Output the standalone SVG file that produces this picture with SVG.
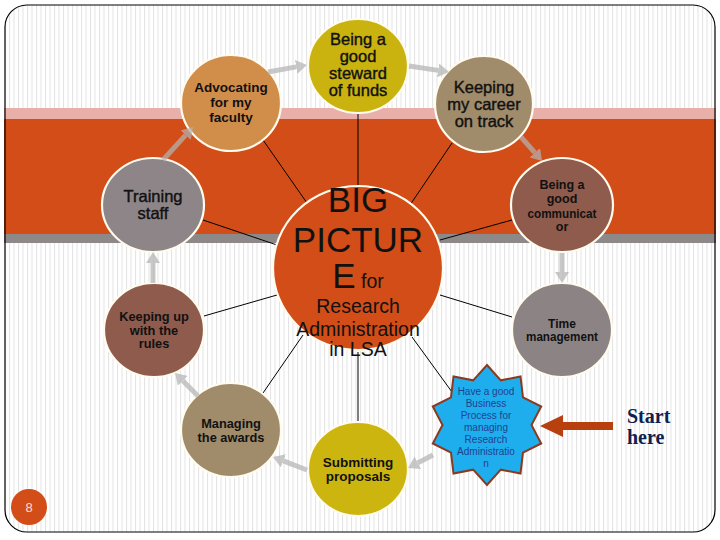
<svg xmlns="http://www.w3.org/2000/svg" width="720" height="540" viewBox="0 0 720 540">
<defs>
<pattern id="stripes" patternUnits="userSpaceOnUse" width="4.5" height="10">
<rect width="4.5" height="10" fill="#ffffff"/>
<rect x="0" width="1" height="10" fill="#e3e3e3"/>
</pattern>
<marker id="gh" viewBox="0 0 11 14" refX="0" refY="7" markerWidth="11" markerHeight="14" markerUnits="userSpaceOnUse" orient="auto">
<path d="M0,0 L11,7 L0,14 z" fill="#b4b4b4"/>
</marker>
<style>
.node{stroke:#fffbee;stroke-width:2.2}
.t{font-family:"Liberation Sans",Arial,sans-serif;fill:#111;text-anchor:middle}
.b{font-weight:bold}
.m{stroke:#111;stroke-width:0.4}
.spoke{stroke:#000;stroke-width:1;fill:none}
.ga{stroke:#b4b4b4;stroke-width:5;fill:none;marker-end:url(#gh)}
</style>
</defs>
<rect width="720" height="540" fill="#ffffff"/>
<rect x="5" y="5" width="710" height="527" rx="22" ry="22" fill="url(#stripes)"/>
<rect x="4" y="108" width="712" height="11" fill="#e8b0a8"/>
<rect x="4" y="119" width="712" height="115" fill="#d24d17"/>
<rect x="4" y="234" width="712" height="9" fill="#8e8989"/>
<rect x="5" y="5" width="710" height="527" rx="22" ry="22" fill="none" stroke="#000" stroke-width="1.2"/>

<g id="spokes">
<line class="spoke" x1="358" y1="112" x2="358" y2="187"/>
<line class="spoke" x1="263" y1="140" x2="307" y2="203"/>
<line class="spoke" x1="452" y1="143" x2="410" y2="205"/>
<line class="spoke" x1="203" y1="220" x2="277" y2="245"/>
<line class="spoke" x1="512" y1="220" x2="440" y2="240"/>
<line class="spoke" x1="512" y1="317" x2="440" y2="295"/>
<line class="spoke" x1="204" y1="316" x2="277" y2="295"/>
<line class="spoke" x1="263" y1="393" x2="303" y2="335"/>
<line class="spoke" x1="358" y1="352" x2="358" y2="422"/>
<line class="spoke" x1="452" y1="392" x2="412" y2="337"/>
</g>

<g id="advocating">
<ellipse class="node" cx="231" cy="103" rx="50" ry="48" fill="#d18e4a"/>
<text class="t b" font-size="13.5"><tspan x="231" y="92">Advocating</tspan><tspan x="231" y="107">for my</tspan><tspan x="231" y="122">faculty</tspan></text>
</g>
<g id="steward">
<ellipse class="node" cx="358" cy="66" rx="50" ry="47" fill="#cbb30f"/>
<text class="t m" font-size="16.5"><tspan x="358" y="45">Being a</tspan><tspan x="358" y="62">good</tspan><tspan x="358" y="79">steward</tspan><tspan x="358" y="96">of funds</tspan></text>
</g>
<g id="career">
<ellipse class="node" cx="484" cy="104" rx="49" ry="48" fill="#a08b6a"/>
<text class="t m" font-size="16.5"><tspan x="484" y="93">Keeping</tspan><tspan x="484" y="110">my career</tspan><tspan x="484" y="127">on track</tspan></text>
</g>
<g id="training">
<ellipse class="node" cx="153" cy="205" rx="51" ry="47" fill="#8d8587"/>
<text class="t m" font-size="16.5"><tspan x="153" y="202">Training</tspan><tspan x="153" y="219">staff</tspan></text>
</g>
<g id="communicator">
<ellipse class="node" cx="562" cy="205" rx="51" ry="47" fill="#8e5b4c"/>
<text class="t b" font-size="12.5"><tspan x="562" y="189">Being a</tspan><tspan x="562" y="203">good</tspan><tspan x="562" y="217.5" textLength="69" lengthAdjust="spacingAndGlyphs">communicat</tspan><tspan x="562" y="231">or</tspan></text>
</g>
<g id="time">
<ellipse class="node" cx="562" cy="330" rx="50" ry="47" fill="#8c8385"/>
<text class="t b" font-size="12"><tspan x="562" y="328">Time</tspan><tspan x="562" y="341" textLength="72" lengthAdjust="spacingAndGlyphs">management</tspan></text>
</g>
<g id="rules">
<ellipse class="node" cx="154" cy="330" rx="50" ry="47" fill="#8f5b4c"/>
<text class="t b" font-size="12.8"><tspan x="154" y="321">Keeping up</tspan><tspan x="154" y="334.5">with the</tspan><tspan x="154" y="348">rules</tspan></text>
</g>
<g id="awards">
<ellipse class="node" cx="231" cy="430" rx="50" ry="47" fill="#a08b6a"/>
<text class="t b" font-size="12.8"><tspan x="231" y="428">Managing</tspan><tspan x="231" y="442">the awards</tspan></text>
</g>
<g id="proposals">
<ellipse class="node" cx="358" cy="469" rx="50" ry="47" fill="#cdb50f"/>
<text class="t b" font-size="13.5"><tspan x="358" y="467">Submitting</tspan><tspan x="358" y="481">proposals</tspan></text>
</g>
<g id="center">
<ellipse class="node" cx="358" cy="268" rx="85" ry="82" fill="#d24d17"/>
<text class="t" font-size="35"><tspan x="358" y="212">BIG</tspan><tspan x="358" y="252">PICTUR</tspan><tspan x="358" y="288">E<tspan font-size="19.5"> for</tspan></tspan></text>
<text class="t" font-size="19.5"><tspan x="358" y="313">Research</tspan><tspan x="358" y="336">Administration</tspan><tspan x="358" y="356">in LSA</tspan></text>
</g>
<g id="business">
<polygon fill="#1eaeee" stroke="#8a3a20" stroke-width="2" stroke-linejoin="miter" points="487,365 500.8,380.3 520.5,376.5 523,397.4 541.2,406.5 531.5,425 541.2,443.5 523,452.6 520.5,473.5 500.8,469.7 487,485 473.2,469.7 453.5,473.5 451,452.6 432.8,443.5 442.5,425 432.8,406.5 451,397.4 453.5,376.5 473.2,380.3"/>
<text font-family="'Liberation Sans',Arial,sans-serif" font-size="10" fill="#233e8e" text-anchor="middle"><tspan x="486" y="395">Have a good</tspan><tspan x="486" y="407">Business</tspan><tspan x="486" y="419">Process for</tspan><tspan x="486" y="431">managing</tspan><tspan x="486" y="443">Research</tspan><tspan x="486" y="455">Administratio</tspan><tspan x="486" y="467">n</tspan></text>
</g>

<g id="flow-arrows" opacity="0.72">
<line class="ga" x1="163" y1="160" x2="185.6" y2="135.1"/>
<line class="ga" x1="268" y1="72" x2="296.2" y2="66.9"/>
<line class="ga" x1="409" y1="66" x2="438.1" y2="70.4"/>
<line class="ga" x1="521" y1="137" x2="534.8" y2="152.7"/>
<line class="ga" x1="562" y1="253" x2="562" y2="272"/>
<line class="ga" x1="433" y1="455" x2="417.8" y2="462.9"/>
<line class="ga" x1="307" y1="470" x2="283.3" y2="460.9"/>
<line class="ga" x1="198" y1="396" x2="182.8" y2="380.8"/>
<line class="ga" x1="153" y1="283" x2="153" y2="263"/>
</g>

<g id="start">
<polygon fill="#b8400e" points="613,422 563,422 563,415 540,426 563,437 563,430 613,430"/>
<text font-family="'Liberation Serif','Times New Roman',serif" font-weight="bold" font-size="20" fill="#0f2150"><tspan x="627" y="423">Start</tspan><tspan x="627" y="444">here</tspan></text>
</g>

<g id="page">
<circle cx="29" cy="507" r="18" fill="#d24d17"/>
<text x="29" y="512" font-family="'Liberation Sans',Arial,sans-serif" font-size="13" fill="#f5e0d5" text-anchor="middle">8</text>
</g>
</svg>
